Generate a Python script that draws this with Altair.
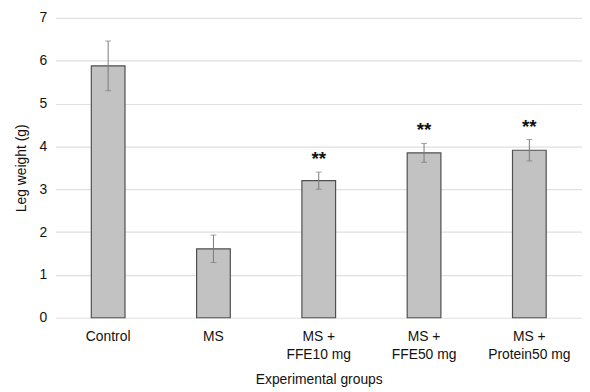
import altair as alt
import pandas as pd

groups = ["Control", "MS", "MS +|FFE10 mg", "MS +|FFE50 mg", "MS +|Protein50 mg"]
means = [5.88, 1.61, 3.20, 3.85, 3.91]
errors = [0.58, 0.32, 0.20, 0.22, 0.25]
stars = ["", "", "**", "**", "**"]

df = pd.DataFrame({
    "group": groups,
    "mean": means,
    "err": errors,
    "star": stars,
})
df["lo"] = df["mean"] - df["err"]
df["hi"] = df["mean"] + df["err"]

FONT = "Liberation Sans"

x = alt.X("group:N", sort=groups, title="Experimental groups",
          scale=alt.Scale(paddingInner=0.68, paddingOuter=0.34),
          axis=alt.Axis(labelAngle=0, labelExpr="split(datum.label, '|')",
                        ticks=False, domain=False, labelPadding=12,
                        labelFontSize=14, labelColor="#111", labelFont=FONT,
                        titleFont=FONT, titleFontSize=14, titleFontWeight="normal",
                        titleColor="#111", titlePadding=11, labelLineHeight=18))

y_scale = alt.Scale(domain=[0, 7])
y_axis = alt.Axis(values=[0, 1, 2, 3, 4, 5, 6, 7], ticks=False, domain=False,
                  gridColor="#e0e0e0", gridWidth=1.2, labelPadding=9,
                  labelFontSize=14, labelColor="#111", labelFont=FONT,
                  titleFont=FONT, titleFontSize=14, titleFontWeight="normal",
                  titleColor="#111", titlePadding=11)

base = alt.Chart(df)

bars = base.mark_bar(color="#c2c2c2", stroke="#505050", strokeWidth=1.2).encode(
    x=x,
    y=alt.Y("mean:Q", scale=y_scale, axis=y_axis, title="Leg weight (g)"),
)

rules = base.mark_rule(color="#7a7a7a", strokeWidth=1).encode(
    x=alt.X("group:N", sort=groups),
    y="lo:Q",
    y2="hi:Q",
)

caps_hi = base.mark_tick(color="#7a7a7a", thickness=1, size=6, orient="horizontal").encode(
    x=alt.X("group:N", sort=groups), y="hi:Q")
caps_lo = base.mark_tick(color="#7a7a7a", thickness=1, size=6, orient="horizontal").encode(
    x=alt.X("group:N", sort=groups), y="lo:Q")

text = base.mark_text(font=FONT, fontSize=19, fontWeight="bold", color="#111",
                      baseline="middle", dy=-13).encode(
    x=alt.X("group:N", sort=groups), y="hi:Q", text="star:N")

chart = alt.layer(bars, rules, caps_hi, caps_lo, text).properties(
    width=532, height=303,
    autosize=alt.AutoSizeParams(type="none"),
    padding={"left": 48, "top": 8, "right": 0, "bottom": 70},
).configure_view(stroke=None)

chart.save("out.html", embed_options={"renderer": "svg", "actions": False})
